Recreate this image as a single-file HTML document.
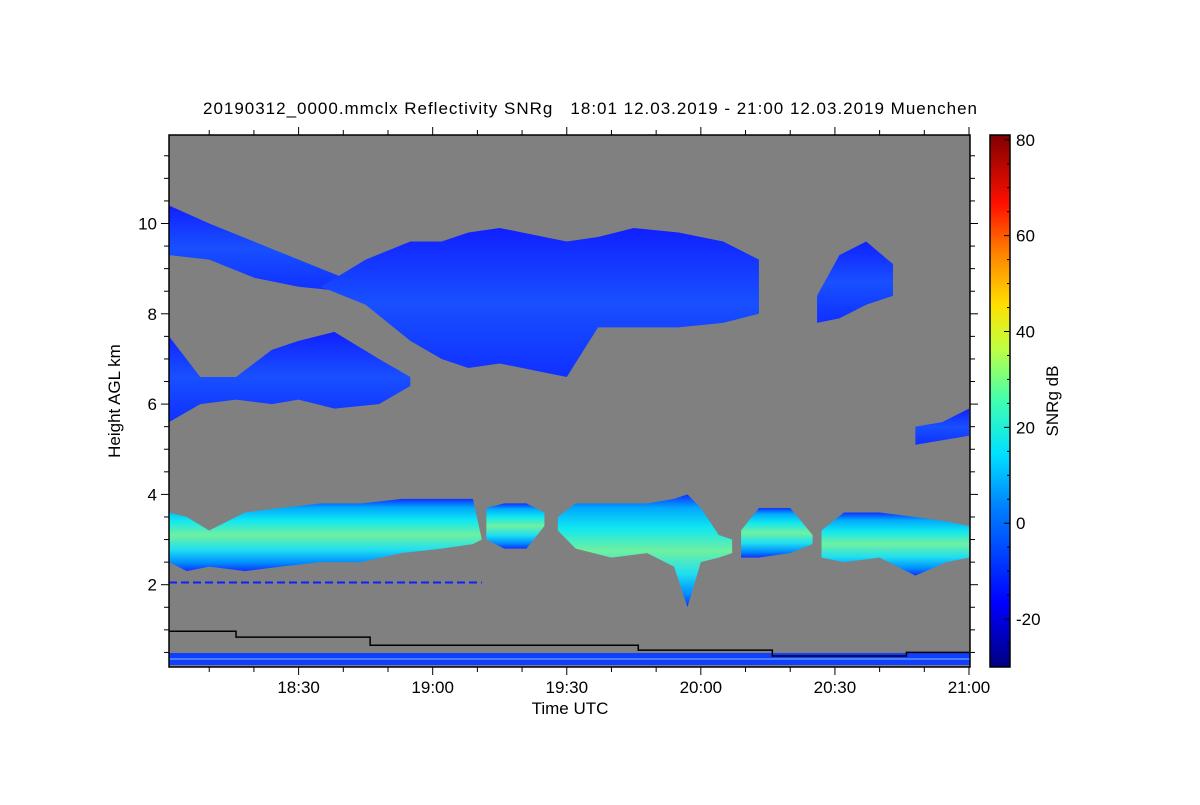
<!DOCTYPE html>
<html><head><meta charset="utf-8">
<style>
body{margin:0;background:#fff;width:1200px;height:800px;overflow:hidden;font-family:"Liberation Sans",sans-serif;}
svg text{font-family:"Liberation Sans",sans-serif;fill:#000;}
</style></head>
<body>
<svg id="chart" width="1200" height="800" xmlns="http://www.w3.org/2000/svg">
<defs>
<linearGradient id="cbar" x1="0" y1="1" x2="0" y2="0">
<stop offset="0" stop-color="#00007f"/><stop offset="0.12" stop-color="#0000ff"/>
<stop offset="0.3" stop-color="#0080ff"/><stop offset="0.4" stop-color="#00e0ff"/>
<stop offset="0.5" stop-color="#40ffb0"/><stop offset="0.6" stop-color="#c0ff40"/>
<stop offset="0.68" stop-color="#ffe000"/><stop offset="0.78" stop-color="#ff8000"/>
<stop offset="0.87" stop-color="#ff1000"/><stop offset="1" stop-color="#800000"/>
</linearGradient>
<linearGradient id="lowg" x1="0" y1="0" x2="0" y2="1">
<stop offset="0" stop-color="#1030ff"/><stop offset="0.12" stop-color="#00a8ff"/>
<stop offset="0.3" stop-color="#10e8f0"/><stop offset="0.5" stop-color="#70f0a0"/>
<stop offset="0.7" stop-color="#20e0f0"/><stop offset="0.88" stop-color="#0090ff"/>
<stop offset="1" stop-color="#1030ff"/>
</linearGradient>
<linearGradient id="upg" x1="0" y1="0" x2="0" y2="1">
<stop offset="0" stop-color="#1020ff"/><stop offset="0.5" stop-color="#1850ff"/>
<stop offset="1" stop-color="#1030ff"/>
</linearGradient>
<clipPath id="clip"><rect x="169" y="135" width="801" height="532"/></clipPath>
</defs>
<text x="203" y="114" font-size="17" textLength="774" lengthAdjust="spacing" style="white-space:pre" xml:space="preserve">20190312_0000.mmclx Reflectivity SNRg   18:01 12.03.2019 - 21:00 12.03.2019 Muenchen</text>
<rect x="169" y="135" width="801" height="532" fill="#808080"/>
<g id="marks" clip-path="url(#clip)"></g>
<rect x="169" y="135" width="801" height="532" fill="none" stroke="#000" stroke-width="1.5"/>
<g id="axes"></g>
<text x="570" y="714" font-size="17" text-anchor="middle">Time UTC</text>
<text x="120" y="401" font-size="17" text-anchor="middle" transform="rotate(-90 120 401)">Height AGL km</text>
<rect x="990" y="135" width="20" height="532" fill="url(#cbar)" stroke="#000" stroke-width="1.5"/>
<g id="cbaxis"></g>
<text x="1058" y="401" font-size="17" text-anchor="middle" transform="rotate(-90 1058 401)">SNRg dB</text>
</svg>
<script>
// time in minutes after 18:00, heights in km
const upperCirrusT=[1,10,20,30,40];
const upperCirrusTop=[10.4,10.0,9.6,9.2,8.8];
const upperCirrusBase=[9.3,9.2,8.8,8.6,8.5];
const mainT=[35,45,55,62,68,75,85,90,97,105,115,125,133];
const mainTop=[8.6,9.2,9.6,9.6,9.8,9.9,9.7,9.6,9.7,9.9,9.8,9.6,9.2];
const mainBase=[8.6,8.2,7.4,7.0,6.8,6.9,6.7,6.6,7.7,7.7,7.7,7.8,8.0];
const midT=[1,8,16,24,30,38,48,55];
const midTop=[7.5,6.6,6.6,7.2,7.4,7.6,7.0,6.6];
const midBase=[5.6,6.0,6.1,6.0,6.1,5.9,6.0,6.4];
const rightT=[146,151,157,163];
const rightTop=[8.4,9.3,9.6,9.1];
const rightBase=[7.8,7.9,8.2,8.4];
const rlowT=[168,174,180];
const rlowTop=[5.5,5.6,5.9];
const rlowBase=[5.1,5.2,5.3];
const lowSegT=[[1,5,10,18,26,35,44,53,62,69,71],[72,76,81,85],[88,92,100,108,114,117,120,124,127],[129,133,140,145],[147,152,160,168,175,180]];
const lowSegTop=[[3.6,3.5,3.2,3.6,3.7,3.8,3.8,3.9,3.9,3.9,3.0],[3.7,3.8,3.8,3.6],[3.5,3.8,3.8,3.8,3.9,4.0,3.7,3.1,3.0],[3.2,3.7,3.7,3.1],[3.2,3.6,3.6,3.5,3.4,3.3]];
const lowSegBase=[[2.5,2.3,2.4,2.3,2.4,2.5,2.5,2.7,2.8,2.9,3.0],[3.0,2.8,2.8,3.3],[3.2,2.8,2.6,2.7,2.4,1.5,2.5,2.6,2.7],[2.6,2.6,2.7,2.9],[2.6,2.5,2.6,2.2,2.5,2.6]];
const stepT=[1,16,46,106,136,166,180];
const stepH=[0.97,0.84,0.66,0.55,0.42,0.5,0.5];
const xTickLabels=["18:30","19:00","19:30","20:00","20:30","21:00"];
const xTickMin=[30,60,90,120,150,180];
const yTicks=[2,4,6,8,10];
const cbTicks=[80,60,40,20,0,-20];

const X=m=>169+(m-1)*800/179;
const Y=h=>675-45.15*h;
const C=v=>667-(v+30)*532/111;
const NS="http://www.w3.org/2000/svg";
const marks=document.getElementById('marks');
function mk(tag,attrs,parent){const e=document.createElementNS(NS,tag);for(const k in attrs)e.setAttribute(k,attrs[k]);parent.appendChild(e);return e;}
function band(t,top,base,fill,name){
  let pts=t.map((m,i)=>X(m)+','+Y(top[i]));
  for(let i=t.length-1;i>=0;i--)pts.push(X(t[i])+','+Y(base[i]));
  const p=mk('polygon',{points:pts.join(' '),fill:fill},marks);
  
  
}
band(upperCirrusT,upperCirrusTop,upperCirrusBase,'url(#upg)','upper-cirrus-layer');
band(mainT,mainTop,mainBase,'url(#upg)','main-cirrus-layer');
band(midT,midTop,midBase,'url(#upg)','mid-cloud-layer');
band(rightT,rightTop,rightBase,'url(#upg)','right-cirrus-patch');
band(rlowT,rlowTop,rlowBase,'url(#upg)','right-mid-patch');
lowSegT.forEach((t,i)=>band(t,lowSegTop[i],lowSegBase[i],'url(#lowg)','low-cloud-segment'));
const dl=mk('line',{x1:X(1),x2:X(71),y1:Y(2.05),y2:Y(2.05),stroke:'#1020ff','stroke-width':2,'stroke-dasharray':'8 4'},marks);


const bb=mk('rect',{x:169,y:653,width:801,height:12,fill:'#1040ff'},marks);


mk('line',{x1:169,x2:970,y1:659,y2:659,stroke:'#6090ff','stroke-width':1.5},marks);
let sp=[];
stepT.forEach((m,i)=>{if(i>0)sp.push(X(m)+','+Y(stepH[i-1]));sp.push(X(m)+','+Y(stepH[i]));});
const sl=mk('polyline',{points:sp.join(' '),fill:'none',stroke:'#000','stroke-width':1.5},marks);


const ax=document.getElementById('axes');
for(let m=10;m<=180;m+=10){
  const big=m%30==0;
  mk('line',{x1:X(m),x2:X(m),y1:667,y2:667+(big?8:5),stroke:'#000','stroke-width':1},ax);
  mk('line',{x1:X(m),x2:X(m),y1:135,y2:135-(big?8:5),stroke:'#000','stroke-width':1},ax);
}
xTickMin.forEach((m,i)=>{const t=mk('text',{x:X(m),y:693,'font-size':17,'text-anchor':'middle'},ax);t.textContent=xTickLabels[i];

});
for(let h=0.5;h<12;h+=0.5){
  const y=Y(h); if(y>667||y<135)continue;
  const big=h%2==0;
  mk('line',{x1:169,x2:169-(big?8:5),y1:y,y2:y,stroke:'#000'},ax);
  mk('line',{x1:970,x2:970+(big?8:5),y1:y,y2:y,stroke:'#000'},ax);
}
yTicks.forEach(h=>{const t=mk('text',{x:157,y:Y(h)+6,'font-size':17,'text-anchor':'end'},ax);t.textContent=h;

});
const cb=document.getElementById('cbaxis');
for(let v=-25;v<=80;v+=5){mk('line',{x1:1010,x2:1010-(v%20==0?6:3),y1:C(v),y2:C(v),stroke:'#000'},cb);}
cbTicks.forEach(v=>{const t=mk('text',{x:1016,y:C(v)+6,'font-size':17},cb);t.textContent=v;

});
</script>
</body></html>
